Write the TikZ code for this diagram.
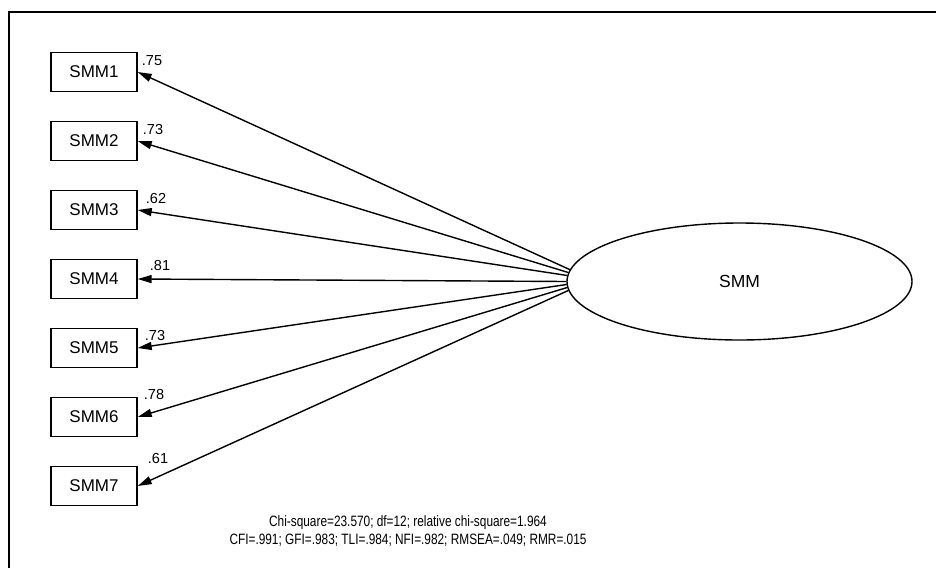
\documentclass[tikz,border=0pt]{standalone}
\usepackage{fontspec}
\setmainfont{Liberation Sans}
\newfontfamily\fitfont[FakeStretch=0.79]{Liberation Sans}
\usetikzlibrary{shapes.geometric,arrows.meta}
\begin{document}
\begin{tikzpicture}[x=1pt,y=-1pt,
  indicator/.style={draw,line width=1.4pt,minimum width=86pt,minimum height=39pt,
    inner sep=0pt,font=\fontsize{17}{17}\selectfont},
  latent/.style={draw,ellipse,line width=1.4pt,minimum width=345pt,minimum height=117pt,
    inner sep=0pt,font=\fontsize{17.5}{17.5}\selectfont},
  loading/.style={-{Triangle[length=14pt,width=8pt]},line width=1.4pt},
  weight/.style={inner sep=0pt,font=\fontsize{14.5}{14.5}\selectfont},
  fitline/.style={inner sep=0pt,font=\fitfont\fontsize{15}{15}\selectfont}]
  \useasboundingbox (0,0) rectangle (936,568);
  % frame (top and left edges)
  \coordinate (fa) at (9,12);
  \coordinate (fb) at (936,12);
  \coordinate (fc) at (9,568);
  \draw[line width=2.4pt] (fb) -- (fa) -- (fc);
  % latent factor
  \node[latent] (smm) at (739.5,281.5) {SMM};
  % indicators
  \node[indicator] (s1) at (94,72) {SMM1};
  \node[indicator] (s2) at (94,141) {SMM2};
  \node[indicator] (s3) at (94,210) {SMM3};
  \node[indicator] (s4) at (94,279) {SMM4};
  \node[indicator] (s5) at (94,348) {SMM5};
  \node[indicator] (s6) at (94,417) {SMM6};
  \node[indicator] (s7) at (94,486) {SMM7};
  % loadings leave the left tip of the ellipse, fanned a little apart
  \foreach \i in {1,...,7}{
    \pgfmathsetmacro{\ang}{180+(\i-4)*1.18}
    \draw[loading] (smm.\ang) -- (s\i.east);
  }
  \node[weight] (w1) at (152,61) {.75};
  \node[weight] (w2) at (153,130) {.73};
  \node[weight] (w3) at (156,199) {.62};
  \node[weight] (w4) at (160,266) {.81};
  \node[weight] (w5) at (155,336) {.73};
  \node[weight] (w6) at (154,395) {.78};
  \node[weight] (w7) at (158,458) {.61};
  % fit indices
  \node[fitline] (fit1) at (408,523) {Chi-square=23.570; df=12; relative chi-square=1.964};
  \node[fitline] (fit2) at (408,540.5) {CFI=.991; GFI=.983; TLI=.984; NFI=.982; RMSEA=.049; RMR=.015};
\end{tikzpicture}
\end{document}
